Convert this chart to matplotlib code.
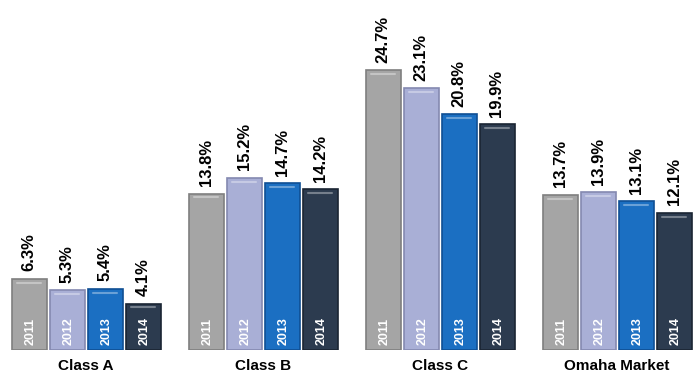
import matplotlib
matplotlib.use("Agg")
import matplotlib.pyplot as plt
import numpy as np

plt.rcParams["font.family"] = ["Liberation Sans", "DejaVu Sans"]

categories = ["Class A", "Class B", "Class C", "Omaha Market"]
years = ["2011", "2012", "2013", "2014"]
values = {
    "2011": [6.3, 13.8, 24.7, 13.7],
    "2012": [5.3, 15.2, 23.1, 13.9],
    "2013": [5.4, 14.7, 20.8, 13.1],
    "2014": [4.1, 14.2, 19.9, 12.1],
}
colors = ["#a5a5a5", "#a9afd6", "#1b6fc2", "#2c3b4f"]
edges = ["#7f7f7f", "#8489b0", "#0f4f94", "#1a2533"]

fig = plt.figure(figsize=(6.93, 3.73), dpi=100)
ax = fig.add_axes([0, 23 / 373, 1, 350 / 373])

step = 38 / 177
width = 35 / 177
x = np.arange(len(categories))

for i, yr in enumerate(years):
    off = (i - 1.5) * step
    vals = values[yr]
    ax.bar(x + off, vals, width=width, color=colors[i],
           edgecolor=edges[i], linewidth=1.2)
    for xi, v in zip(x + off, vals):
        # light highlight strip near the top of each bar
        ax.plot([xi - width * 0.35, xi + width * 0.35], [v - 0.35, v - 0.35],
                color="white", alpha=0.35, linewidth=1.5, solid_capstyle="round")
        ax.text(xi, v + 0.65, f"{v}%", rotation=90, ha="center", va="bottom",
                fontsize=12, fontweight="bold", color="black")
        ax.text(xi + 0.01, 0.4, yr, rotation=90, ha="center", va="bottom",
                fontsize=9, fontweight="bold", color="white")

for xi, cat in zip(x, categories):
    ax.text(xi, -0.75, cat, ha="center", va="top", fontsize=11,
            fontweight="bold", color="black", clip_on=False)

ax.set_xlim(-86 / 177, (693 - 86) / 177)
ax.set_ylim(0, 350 / 11.34)
ax.axis("off")

fig.savefig("out.png", dpi=100, facecolor="white")
